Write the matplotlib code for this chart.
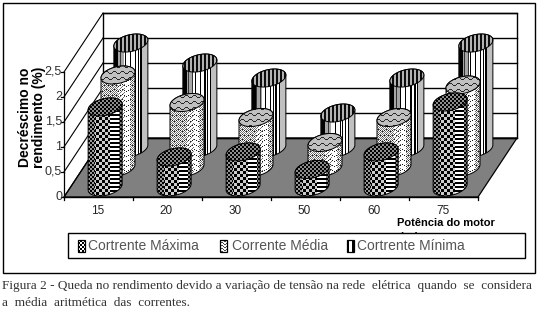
import numpy as np
import matplotlib
matplotlib.use('Agg')
import matplotlib.pyplot as plt
from matplotlib.path import Path
from matplotlib.patches import PathPatch, Polygon, Rectangle

categorias = ['15', '20', '30', '50', '60', '75']
corrente_maxima = [1.6, 0.6, 0.7, 0.35, 0.7, 1.7]
corrente_media = [1.85, 1.3, 1.0, 0.5, 1.0, 1.65]
corrente_minima = [2.1, 1.7, 1.4, 0.7, 1.4, 2.1]
y_ticks = ['0', '0,5', '1', '1,5', '2', '2,5']
y_tick_values = [0, 0.5, 1, 1.5, 2, 2.5]
legenda = ['Cortrente Máxima', 'Corrente Média', 'Cortrente Mínima']
titulo_y = 'Decréscimo no\nrendimento (%)'
titulo_x = 'Potência do motor'
legenda_x = [88, 232, 357]
legenda_swatch = [78, 220, 347]

X0, Y0 = 64, 197
CAT_W = 69
DX, DY = 39, -59
UNIT = 50
A, B, K = 17, 8.5, 3
BLACK = '#000000'


def proj(cat, depth, val):
    x = X0 + CAT_W * (cat + 0.5) + DX * depth
    y = Y0 + DY * depth - UNIT * val
    return x, y


def side_texture(kind, xs, ys):
    u = (xs - xs.min()) / (xs.max() - xs.min())
    if kind == 0:
        check = ((xs // 3 + ys // 3) % 2).astype(float)
        fine = ((xs // 2 + ys // 2) % 2).astype(float)
        out = check * 0.8
        out[u < 0.18] = fine[u < 0.18] * 0.6
        mid = (u > 0.62) & (u < 0.9)
        out[mid] = (ys[mid] % 4 < 2).astype(float)
        out[u >= 0.9] = fine[u >= 0.9] * 0.5
    elif kind == 1:
        wave = ((ys + np.round(1.2 * np.sin(xs * 2 * np.pi / 8))) % 5 < 1) & (xs % 2 == 0)
        out = np.ones_like(u)
        out[((xs + ys) % 2 == 0) & (u < 0.5)] = 0.45
        out[((xs + ys) % 2 == 0) & (u > 0.85)] = 0.45
        out[((xs + ys) % 4 == 0) & (u >= 0.5) & (u < 0.7)] = 0.45
        out[wave] = 0.1
    else:
        out = np.ones_like(u)
        out[(xs % 5 == 0) & (u >= 0.3)] = 0
        out[(xs % 3 == 0) & (u >= 0.6) & (u < 0.85)] = 0
        out[(u >= 0.12) & (u < 0.3)] = 0.65
        out[(xs % 4 == 0) & (u >= 0.12) & (u < 0.3)] = 0.2
        out[u >= 0.85] = 0.75
        out[u < 0.12] = 0
    return out


def top_texture(kind, xs, ys):
    if kind == 0:
        return ((xs // 2 + ys // 2) % 2) * 0.55
    if kind == 1:
        wave = (ys + np.round(1.4 * np.sin(xs * 2 * np.pi / 8))) % 6 < 1
        return np.where(wave, 0.15, 0.75)
    return np.where(xs % 4 < 2, 0.05, 0.7)


def textured(ax, func, kind, verts, zorder):
    verts = np.array(verts)
    x0, y0 = np.floor(verts.min(axis=0)).astype(int)
    x1, y1 = np.ceil(verts.max(axis=0)).astype(int)
    xs, ys = np.meshgrid(np.arange(x0, x1), np.arange(y0, y1))
    img = func(kind, xs, ys)
    im = ax.imshow(img, cmap='gray', vmin=0, vmax=1, extent=(x0, x1, y1, y0),
                   interpolation='nearest', aspect='auto', zorder=zorder)
    patch = PathPatch(Path(np.vstack([verts, verts[0]])), facecolor='none',
                      edgecolor=BLACK, linewidth=0.7, zorder=zorder + 0.1)
    ax.add_patch(patch)
    im.set_clip_path(patch)


def cilindro(ax, cat, depth, val, kind, zorder):
    cx, base = proj(cat, depth, 0)
    _, top = proj(cat, depth, val)
    t = np.linspace(np.pi, 0, 40)
    bottom = np.c_[cx + A * np.cos(t), base + B * np.sin(t) - K * np.cos(t)]
    t2 = np.linspace(0, -np.pi, 40)
    upper = np.c_[cx + A * np.cos(t2), top + B * np.sin(t2) - K * np.cos(t2)]
    textured(ax, side_texture, kind, np.vstack([bottom, upper]), zorder)
    t3 = np.linspace(0, 2 * np.pi, 80)
    cap = np.c_[cx + A * np.cos(t3), top + B * np.sin(t3) - K * np.cos(t3)]
    textured(ax, top_texture, kind, cap, zorder + 0.2)


fig = plt.figure(figsize=(5.38, 3.11), dpi=100)
ax = fig.add_axes([0, 0, 1, 1])
ax.axis('off')

ax.add_patch(Rectangle((2.5, 2.5), 532.5, 270, fill=False, edgecolor=BLACK, linewidth=1, zorder=1))

n = len(categorias)
x_right = X0 + CAT_W * n
top_val = y_tick_values[-1]
back_left = (X0 + DX, Y0 + DY)
back_right = (x_right + DX, Y0 + DY)
ax.add_patch(Polygon([(X0, Y0), (x_right, Y0), back_right, back_left],
                     facecolor='#808080', edgecolor=BLACK, linewidth=0.9, zorder=2))
ax.plot([back_left[0], back_right[0], back_right[0], back_left[0], back_left[0]],
        [back_left[1], back_right[1], back_right[1] - UNIT * top_val,
         back_left[1] - UNIT * top_val, back_left[1]], color=BLACK, lw=1, zorder=2)
for v in y_tick_values:
    yf = Y0 - UNIT * v
    ax.plot([X0, X0 + DX], [yf, yf + DY], color=BLACK, lw=0.8, zorder=2)
    ax.plot([back_left[0], back_right[0]], [yf + DY, yf + DY], color=BLACK, lw=1, zorder=2)
    ax.plot([X0 - 3, X0], [yf, yf], color=BLACK, lw=0.9, zorder=3)
ax.plot([X0, X0], [Y0, Y0 - UNIT * top_val], color=BLACK, lw=0.9, zorder=3)
ax.plot([X0, x_right], [Y0, Y0], color=BLACK, lw=1, zorder=3)
for i in range(n + 1):
    ax.plot([X0 + CAT_W * i] * 2, [Y0, Y0 + 3], color=BLACK, lw=0.9, zorder=3)

series = [corrente_minima, corrente_media, corrente_maxima]
depths = [0.83, 0.5, 0.17]
kinds = [2, 1, 0]
for s, (vals, d, k) in enumerate(zip(series, depths, kinds)):
    for c, v in enumerate(vals):
        cilindro(ax, c, d, v, k, 5 + s)

for i, lab in enumerate(categorias):
    ax.text(X0 + CAT_W * (i + 0.5) - 1, 211, lab, ha='center', va='center',
            family='Liberation Sans', fontsize=8.5, color='#222222')
for lab, v in zip(y_ticks, y_tick_values):
    ax.text(X0 - 2, Y0 - UNIT * v, lab, ha='right', va='center',
            family='Liberation Sans', fontsize=9, color='#333333')
ax.text(32, 117, titulo_y, rotation=90, ha='center', va='center', multialignment='center',
        family='Liberation Sans', fontweight='bold', fontsize=10, linespacing=1.05)
ax.text(397, 222.5, titulo_x, ha='left', va='center', family='Liberation Sans',
        fontweight='bold', fontsize=8)
ax.text(399, 237, '(cv)', ha='left', va='center', family='Liberation Sans',
        fontweight='bold', fontsize=8, zorder=8)

ax.add_patch(Rectangle((68, 232.5), 456.5, 25, facecolor='white', edgecolor=BLACK,
                       linewidth=1, zorder=9))
for lab, tx, sx, k in zip(legenda, legenda_x, legenda_swatch, [0, 1, 2]):
    ax.text(tx, 246, lab, ha='left', va='center', family='Liberation Sans',
            fontsize=10, color='#555555', zorder=10)
    xs, ys = np.meshgrid(np.arange(sx, sx + 7), np.arange(240, 252))
    if k == 0:
        img = ((xs // 2 + ys // 2) % 2).astype(float)
    elif k == 1:
        img = np.where((ys + np.round(np.sin(xs))) % 3 < 1, 0.3, 1.0)
    else:
        img = np.where(np.abs(xs - sx - 3) < 1.5, 1.0, 0.0)
    ax.imshow(img, cmap='gray', vmin=0, vmax=1, extent=(sx, sx + 7, 252, 240),
              interpolation='nearest', aspect='auto', zorder=10)
    ax.add_patch(Rectangle((sx, 240), 7, 12, fill=False, edgecolor=BLACK, linewidth=0.9, zorder=11))

ax.text(2, 286, 'Figura 2 - Queda no rendimento devido a variação de tensão na rede  elétrica  quando  se  considera',
        ha='left', va='center', family='Liberation Serif', fontsize=9.5, color='#333333')
ax.text(2, 303, 'a  média  aritmética  das  correntes.', ha='left', va='center',
        family='Liberation Serif', fontsize=9.5, color='#333333')

ax.set_xlim(0, 538)
ax.set_ylim(311, 0)
fig.savefig('out.png', dpi=100, facecolor='white')
